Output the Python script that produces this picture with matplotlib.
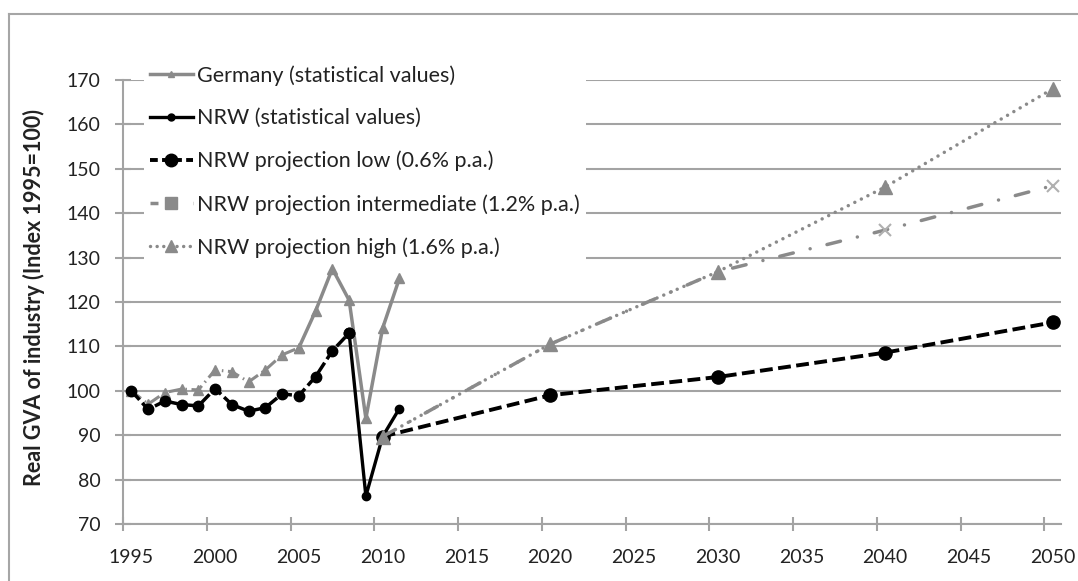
import matplotlib
matplotlib.use('Agg')
import matplotlib.pyplot as plt
from matplotlib.lines import Line2D
import numpy as np

plt.rcParams['font.family'] = ['Lato', 'DejaVu Sans']

# ---------------- data ----------------
hist_years = list(range(1995, 2012))
germany = [100.0, 97.0, 99.6, 100.4, 100.2, 104.7, 104.3, 102.0, 104.7, 108.1,
           109.7, 118.0, 127.5, 120.4, 93.8, 114.1, 125.3]
nrw = [100.0, 95.8, 97.7, 96.9, 96.6, 100.5, 96.9, 95.4, 96.2, 99.3,
       98.9, 103.2, 109.0, 113.0, 76.3, 89.7, 96.0]
proj_years = [2010, 2020, 2030, 2040, 2050]
proj_low = [89.7, 99.0, 103.1, 108.6, 115.4]
proj_mid = [89.7, 110.5, 126.8, 136.2, 146.2]
proj_high = [89.7, 110.5, 126.8, 145.9, 168.0]
germany_solid_from = 2005
nrw_solid_from = 2008
legend_labels = ["Germany (statistical values)",
                 "NRW (statistical values)",
                 "NRW projection low (0.6% p.a.)",
                 "NRW projection intermediate (1.2% p.a.)",
                 "NRW projection high (1.6% p.a.)"]
xtick_years = list(range(1995, 2051, 5))
yticks = list(range(70, 171, 10))
ylabel = "Real GVA of industry (Index 1995=100)"

# ---------------- styles ----------------
GRAY = '#8a8a8a'
LIGHT = '#b0b0b0'
GRID = '#a3a3a3'
FS = 14
LFS = 15.5

W, H = 1078, 581
fig = plt.figure(figsize=(W / 100, H / 100), dpi=100)
ax = fig.add_axes([123 / W, 1 - 524 / H, (1061 - 123) / W, (524 - 80) / H])
ax.set_xlim(1994.5, 2050.5)
ax.set_ylim(70, 170)

# Germany
gi = hist_years.index(germany_solid_from)
ax.plot(hist_years[:gi + 1], germany[:gi + 1], color=GRAY, lw=2.2,
        linestyle=(0, (4, 1.5, 0.5, 1.5)), marker='^', ms=7, zorder=3)
ax.plot(hist_years[gi:], germany[gi:], color=GRAY, lw=2.5, marker='^', ms=7,
        zorder=3)
# NRW
ni = hist_years.index(nrw_solid_from)
ax.plot(hist_years[:ni + 1], nrw[:ni + 1], color='black', lw=2.5,
        linestyle=(0, (3.5, 1.2)), marker='o', ms=7.5, zorder=4)
ax.plot(hist_years[ni:], nrw[ni:], color='black', lw=2.4, marker='o', ms=6,
        zorder=4)
ax.plot(hist_years[ni:ni + 1], nrw[ni:ni + 1], 'o', color='black', ms=7.5, zorder=4)
# projections
ax.plot(proj_years, proj_low, color='black', lw=2.8, linestyle=(0, (3.3, 1.4)),
        marker='o', ms=9.5, zorder=5)
ax.plot(proj_years, proj_mid, color=GRAY, lw=2.5, linestyle=(0, (4, 5, 0.01, 5)),
        dash_capstyle='round', zorder=6)
ax.plot(proj_years[3:], proj_mid[3:], 'x', color=LIGHT, ms=9, mew=1.5, zorder=6)
ax.plot(proj_years, proj_high, color=GRAY, lw=2.5, linestyle=(0, (0.01, 2.1)),
        dash_capstyle='round', marker='^', ms=10, zorder=7)

# axes styling
ax.set_yticks(yticks)
ax.set_yticklabels([str(v) for v in yticks])
ax.set_xticks(xtick_years)
ax.set_xticklabels([str(y) for y in xtick_years])
ax.set_xticks(np.arange(xtick_years[0] - 0.5, 2050.5, 5), minor=True)
ax.yaxis.grid(True, color=GRID, lw=1.5)
ax.set_axisbelow(True)
for s in ['top', 'right']:
    ax.spines[s].set_visible(False)
for s in ['left', 'bottom']:
    ax.spines[s].set_color(GRID)
    ax.spines[s].set_linewidth(1.5)
ax.tick_params(axis='y', direction='inout', length=11.5, width=1.5, color=GRID,
               labelsize=FS, labelcolor='#222222', pad=10.5)
ax.tick_params(axis='x', which='major', length=0, labelsize=FS,
               labelcolor='#222222', pad=18)
ax.tick_params(axis='x', which='minor', direction='inout', length=10, width=1.5,
               color=GRID)

fig.text(33.5 / W, 1 - 297 / H, ylabel, rotation=90, ha='center', va='center',
         fontsize=LFS, fontweight='bold', color='#222222')

# legend
handles = [
    Line2D([], [], color=GRAY, lw=2.5, marker='^', ms=5),
    Line2D([], [], color='black', lw=2.4, marker='o', ms=5),
    Line2D([], [], color='black', lw=2.8, linestyle=(0, (2.0, 1.1)), marker='o', ms=9),
    Line2D([], [], color=GRAY, lw=2.5, linestyle=(0, (2.3, 10)), marker='s', ms=8.5),
    Line2D([], [], color=GRAY, lw=2.5, linestyle=(0, (0.01, 1.9)),
           dash_capstyle='round', marker='^', ms=9),
]
leg = ax.legend(handles, legend_labels, loc='upper left',
                bbox_to_anchor=(143.5 / W, 1 - 58.5 / H), bbox_transform=fig.transFigure,
                frameon=True, facecolor='white', edgecolor='none', framealpha=1,
                fancybox=False, fontsize=LFS, handlelength=2.0, handletextpad=0.19,
                labelspacing=1.05, borderpad=0.3, borderaxespad=0)
leg.set_zorder(10)
for t in leg.get_texts():
    t.set_color('#222222')

# outer frame
fig.add_artist(Line2D([9 / W, 9 / W], [0, 1 - 14 / H], transform=fig.transFigure,
                      color='#a6a6a6', lw=1.5))
fig.add_artist(Line2D([9 / W, 1], [1 - 14 / H, 1 - 14 / H], transform=fig.transFigure,
                      color='#a6a6a6', lw=1.5))

fig.savefig('out.png', dpi=100, facecolor='white')
